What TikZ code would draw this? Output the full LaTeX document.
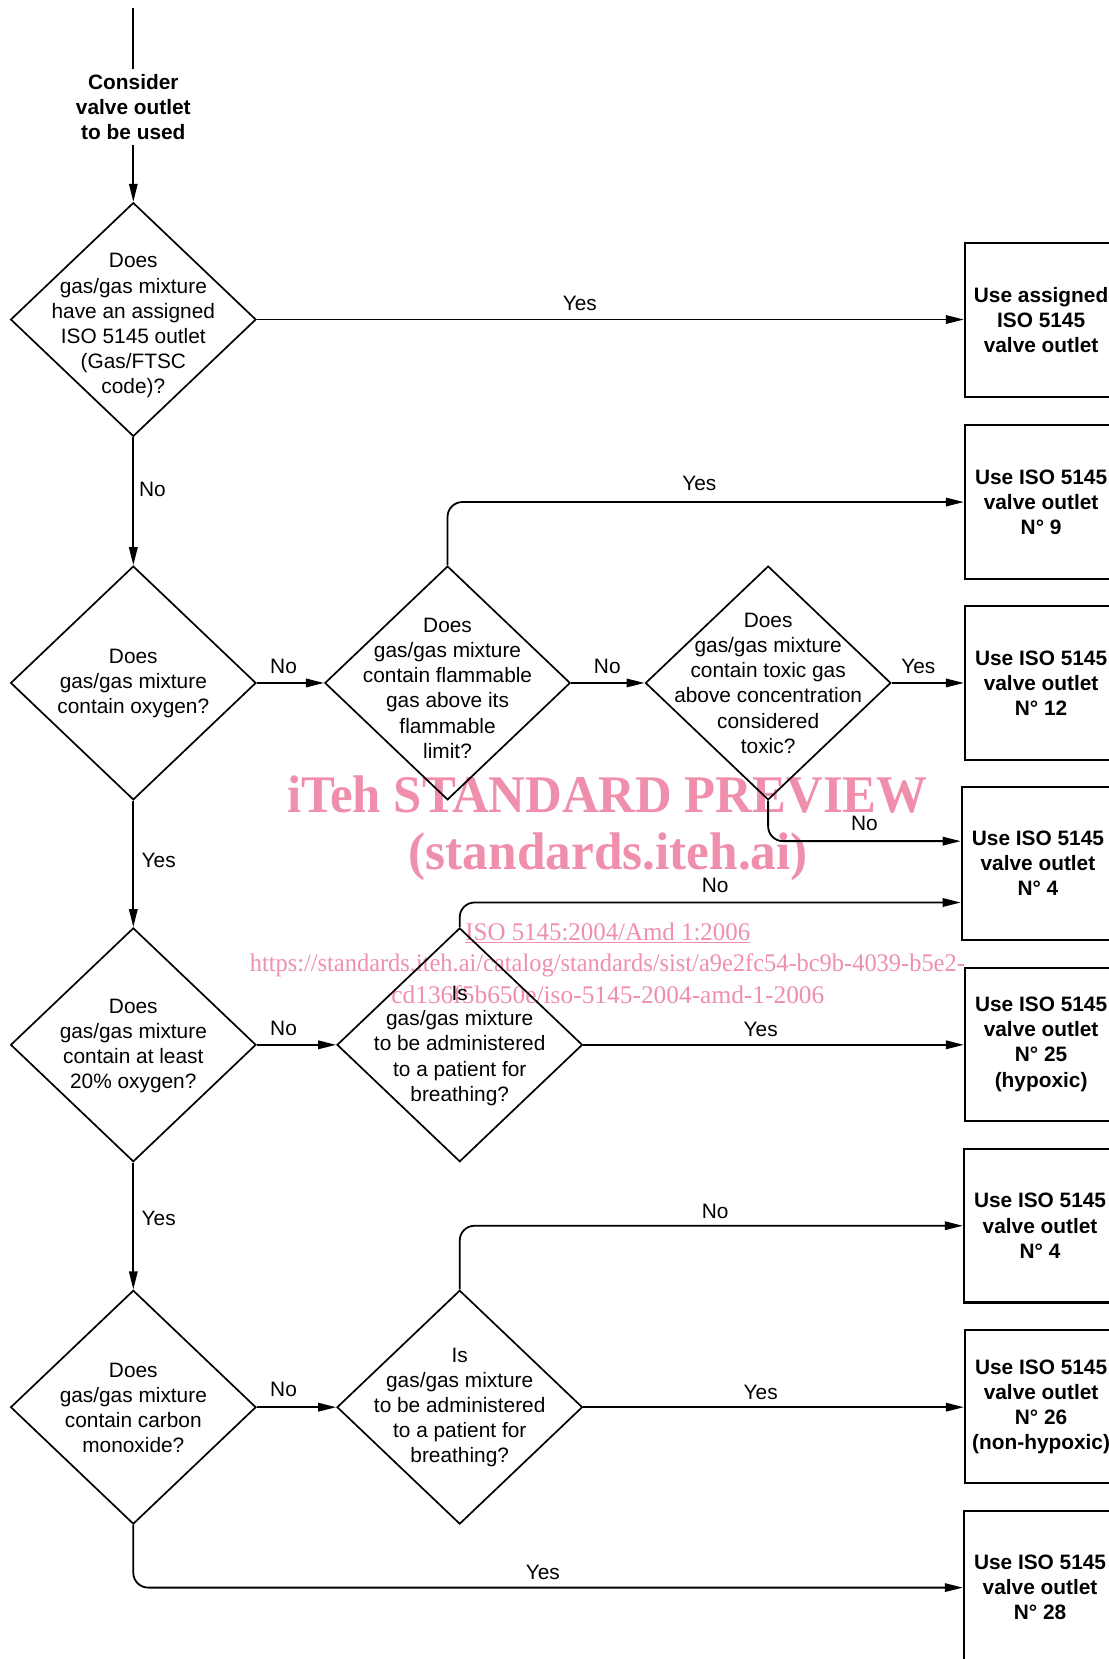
\documentclass[tikz,border=0pt]{standalone}
\usepackage{graphicx}
\usepackage{fontspec}
\setmainfont{Liberation Sans}
\newfontfamily\wmfont{Liberation Serif}
\usetikzlibrary{arrows.meta,shapes.geometric}
\definecolor{wm}{RGB}{239,143,171}
\begin{document}
\begin{tikzpicture}[x=1pt,y=-1pt,
  txt/.style={font=\fontsize{19.7}{23.8}\selectfont, align=center, inner sep=0pt},
  dec/.style={draw, line width=1.6pt, shape=diamond, minimum width=232pt, minimum height=221pt, inner sep=0pt},
  outbox/.style={draw, line width=2pt, rectangle, minimum width=144pt, minimum height=145pt, inner sep=0pt, font=\fontsize{19.7}{23.8}\selectfont\bfseries, align=center},
  conn/.style={line width=1.7pt, -{Triangle[length=17pt,width=8pt]}, rounded corners=14pt},
  plainline/.style={line width=1.7pt},
  lbl/.style={font=\fontsize{19.7}{23.8}\selectfont, inner sep=0pt},
  wmtxt/.style={text=wm, inner sep=0pt, anchor=base}
]
\path[use as bounding box, fill=white] (0,0) rectangle (1048,1568);
\clip (0,0) rectangle (1048,1568);

% watermark
\node[wmtxt, font=\wmfont\fontsize{50}{50}\selectfont\bfseries] (wm1) at (574,767.5) {\scalebox{0.96}[1]{iTeh STANDARD PREVIEW}};
\node[wmtxt, font=\wmfont\fontsize{50}{50}\selectfont\bfseries] (wm2) at (575,822) {\scalebox{0.97}[1]{(standards.iteh.ai)}};
\node[wmtxt, font=\wmfont\fontsize{24}{24}\selectfont] (wm3) at (574.5,889) {\scalebox{0.98}[1]{\underline{ISO 5145:2004/Amd 1:2006}}};
\node[wmtxt, font=\wmfont\fontsize{24}{24}\selectfont] (wm4) at (574,918) {\scalebox{0.962}[1]{https://standards.iteh.ai/catalog/standards/sist/a9e2fc54-bc9b-4039-b5e2-}};
\node[wmtxt, font=\wmfont\fontsize{24}{24}\selectfont] (wm5) at (574.5,948) {cd136f5b650e/iso-5145-2004-amd-1-2006};

% start
\coordinate (top) at (126,8);
\node[txt, font=\fontsize{19.7}{23.8}\selectfont\bfseries, inner sep=4.5pt] (start) at (126,101) {Consider\\valve outlet\\to be used};

% decisions
\node[dec] (d1) at (126,302) {};
\node[dec] (d2) at (126,645.5) {};
\node[dec] (d3) at (423,645.5) {};
\node[dec] (d4) at (726,645.5) {};
\node[dec] (d6) at (126,987.5) {};
\node[dec] (d5) at (434.5,987.5) {};
\node[dec] (d7) at (126,1330) {};
\node[dec] (d8) at (434.5,1330) {};

\node[txt] (t1) at (126,308) {Does\\gas/gas mixture\\have an assigned\\ISO 5145 outlet\\(Gas/FTSC\\code)?};
\node[txt] (t2) at (126,646) {Does\\gas/gas mixture\\contain oxygen?};
\node[txt] (t3) at (423,650.5) {Does\\gas/gas mixture\\contain flammable\\gas above its\\flammable\\limit?};
\node[txt] (t4) at (726,645.7) {Does\\gas/gas mixture\\contain toxic gas\\above concentration\\considered\\toxic?};
\node[txt] (t6) at (126,988.4) {Does\\gas/gas mixture\\contain at least\\20\% oxygen?};
\node[txt] (t5) at (434.5,988.6) {Is\\gas/gas mixture\\to be administered\\to a patient for\\breathing?};
\node[txt] (t7) at (126,1330.6) {Does\\gas/gas mixture\\contain carbon\\monoxide?};
\node[txt] (t8) at (434.5,1330.3) {Is\\gas/gas mixture\\to be administered\\to a patient for\\breathing?};

% outcome boxes
\node[outbox] (b1) at (984,302.5) {Use assigned\\ISO 5145\\valve outlet};
\node[outbox] (b2) at (984,474.5) {Use ISO 5145\\valve outlet\\N° 9};
\node[outbox] (b3) at (984,645.5) {Use ISO 5145\\valve outlet\\N° 12};
\node[outbox] (b4) at (981,816) {Use ISO 5145\\valve outlet\\N° 4};
\node[outbox] (b5) at (984,987) {Use ISO 5145\\valve outlet\\N° 25\\(hypoxic)};
\node[outbox] (b6) at (983,1158.5) {Use ISO 5145\\valve outlet\\N° 4};
\node[outbox] (b7) at (984,1329.5) {Use ISO 5145\\valve outlet\\N° 26\\(non-hypoxic)};
\node[outbox] (b8) at (983,1500.5) {Use ISO 5145\\valve outlet\\N° 28};

% connectors
\draw[plainline] (top) -- (start.north);
\draw[conn] (start.south) -- (d1.north);
\draw[conn] (d1.east) -- (d1.east -| b1.west);
\draw[conn] (d1.south) -- (d2.north);
\draw[conn] (d2.east) -- (d3.west);
\draw[conn] (d3.north) |- (b2.west);
\draw[conn] (d3.east) -- (d4.west);
\draw[conn] (d4.east) -- (d4.east -| b3.west);
\draw[conn] (d4.south) |- ([yshift=21pt]b4.west);
\draw[conn] (d5.north) |- ([yshift=-37pt]b4.west);
\draw[conn] (d2.south) -- (d6.north);
\draw[conn] (d6.east) -- (d5.west);
\draw[conn] (d5.east) -- (d5.east -| b5.west);
\draw[conn] (d6.south) -- (d7.north);
\draw[conn] (d7.east) -- (d8.west);
\draw[conn] (d8.north) |- (b6.west);
\draw[conn] (d8.east) -- (d8.east -| b7.west);
\draw[conn] (d7.south) |- (b8.west);

% labels
\node[lbl] (l1) at (548,287) {Yes};
\node[lbl] (l2) at (144,463) {No};
\node[lbl] (l3) at (268,630) {No};
\node[lbl] (l4) at (661,457) {Yes};
\node[lbl] (l5) at (574,630) {No};
\node[lbl] (l6) at (868,630) {Yes};
\node[lbl] (l7) at (817,778) {No};
\node[lbl] (l8) at (676,837) {No};
\node[lbl] (l9) at (150,813) {Yes};
\node[lbl] (l10) at (268,972) {No};
\node[lbl] (l11) at (719,973) {Yes};
\node[lbl] (l12) at (150,1152) {Yes};
\node[lbl] (l13) at (268,1313) {No};
\node[lbl] (l14) at (676,1145) {No};
\node[lbl] (l15) at (719,1316) {Yes};
\node[lbl] (l16) at (513,1486) {Yes};
\end{tikzpicture}
\end{document}
